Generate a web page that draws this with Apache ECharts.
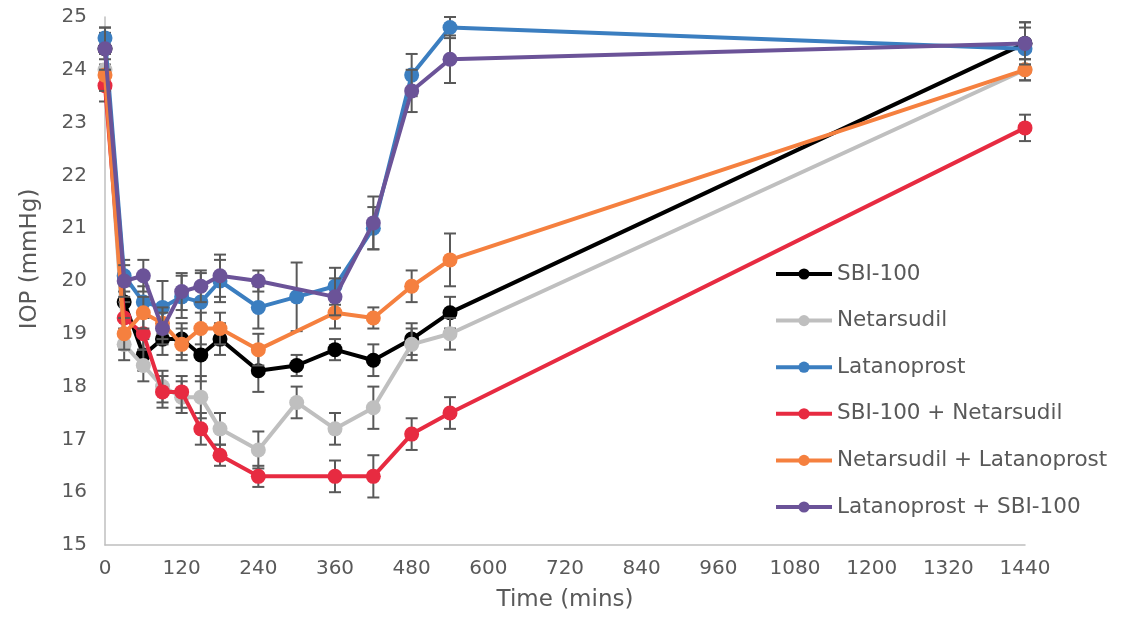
<!DOCTYPE html>
<html>
<head>
<meta charset="utf-8">
<script src="https://cdn.jsdelivr.net/npm/echarts@6/dist/echarts.min.js"></script>
<style>
html,body{margin:0;padding:0;background:#fff;}
#chart{width:1135px;height:617px;}
</style>
</head>
<body>
<div id="chart"></div>
<script>
const times = [0,30,60,90,120,150,180,240,300,360,420,480,540,1440];
const seriesNames = ["SBI-100","Netarsudil","Latanoprost","SBI-100 + Netarsudil","Netarsudil + Latanoprost","Latanoprost + SBI-100"];
const seriesColors = ["#000000","#BFBFBF","#3B7EC0","#E72B41","#F5803F","#6B5398"];

const sbi100       = [24.4,19.6,18.6,18.9,18.9,18.6,18.9,18.3,18.4,18.7,18.5,18.9,19.4,24.5];
const sbi100Err    = [0.3,0.3,0.3,0.3,0.3,0.5,0.3,0.4,0.2,0.2,0.3,0.3,0.3,0.4];
const netarsudil   = [24.0,18.8,18.4,18.0,17.8,17.8,17.2,16.8,17.7,17.2,17.6,18.8,19.0,24.0];
const netarsudilErr= [0.3,0.3,0.3,0.3,0.3,0.4,0.3,0.35,0.3,0.3,0.4,0.3,0.3,0.2];
const latanoprost  = [24.6,20.1,19.6,19.5,19.7,19.6,20.0,19.5,19.7,19.9,21.0,23.9,24.8,24.4];
const latanoprostErr=[0.2,0.3,0.3,0.5,0.4,0.55,0.4,0.4,0.65,0.35,0.4,0.4,0.2,0.4];
const sbiNet       = [23.7,19.3,19.0,17.9,17.9,17.2,16.7,16.3,null,16.3,16.3,17.1,17.5,22.9];
const sbiNetErr    = [0.3,0.3,0.3,0.3,0.3,0.3,0.2,0.2,null,0.3,0.4,0.3,0.3,0.25];
const netLat       = [23.9,19.0,19.4,19.2,18.8,19.1,19.1,18.7,null,19.4,19.3,19.9,20.4,24.0];
const netLatErr    = [0.3,0.3,0.3,0.3,0.3,0.3,0.3,0.3,null,0.3,0.2,0.3,0.5,0.2];
const latSbi       = [24.4,20.0,20.1,19.1,19.8,19.9,20.1,20.0,null,19.7,21.1,23.6,24.2,24.5];
const latSbiErr    = [0.4,0.3,0.3,0.3,0.35,0.3,0.4,0.2,null,0.35,0.5,0.4,0.45,0.4];

const yTicks = {min:15, max:25, interval:1};
const xTicks = {min:0, max:1440, interval:120};

const allValues = [sbi100, netarsudil, latanoprost, sbiNet, netLat, latSbi];
const allErrors = [sbi100Err, netarsudilErr, latanoprostErr, sbiNetErr, netLatErr, latSbiErr];

const FONT = "DejaVu Sans";
const TXT = "#595959";

function errRender(params, api) {
  const x = api.value(0), lo = api.value(1), hi = api.value(2);
  const pHi = api.coord([x, hi]);
  const pLo = api.coord([x, lo]);
  const hw = 6;
  const style = {stroke:"#595959", lineWidth:2, fill:null};
  return {type:'group', children:[
    {type:'line', shape:{x1:pHi[0], y1:pHi[1], x2:pLo[0], y2:pLo[1]}, style:style},
    {type:'line', shape:{x1:pHi[0]-hw, y1:pHi[1], x2:pHi[0]+hw, y2:pHi[1]}, style:style},
    {type:'line', shape:{x1:pLo[0]-hw, y1:pLo[1], x2:pLo[0]+hw, y2:pLo[1]}, style:style}
  ]};
}

const series = [];
allValues.forEach((vals, si) => {
  const pts = [], errs = [];
  times.forEach((t, i) => {
    if (vals[i] !== null) {
      pts.push([t, vals[i]]);
      errs.push([t, vals[i] - allErrors[si][i], vals[i] + allErrors[si][i]]);
    }
  });
  series.push({
    type:'custom', renderItem: errRender, data: errs, z: 2 + si*2, silent:true,
    encode:{x:0, y:[1,2]}
  });
  series.push({
    name: seriesNames[si], type:'line', data: pts, z: 3 + si*2,
    symbol:'circle', symbolSize:15,
    lineStyle:{width:4, color:seriesColors[si]},
    itemStyle:{color:seriesColors[si]},
    animation:false
  });
});

const chart = echarts.init(document.getElementById('chart'));
chart.setOption({
  animation:false,
  backgroundColor:'#fff',
  grid:{left:105, right:110, top:17, bottom:71, containLabel:false},
  xAxis:{
    type:'value', min:xTicks.min, max:xTicks.max, interval:xTicks.interval,
    name:'Time (mins)', nameLocation:'middle', nameGap:44,
    nameTextStyle:{fontFamily:FONT, fontSize:23, color:TXT},
    axisLine:{show:true, lineStyle:{color:'#BFBFBF', width:1.5}},
    axisTick:{show:false},
    splitLine:{show:false},
    axisLabel:{fontFamily:FONT, fontSize:20, color:TXT, margin:14, formatter:(v)=>String(v)}
  },
  yAxis:{
    type:'value', min:yTicks.min, max:yTicks.max, interval:yTicks.interval,
    name:'IOP (mmHg)', nameLocation:'middle', nameGap:63,
    nameTextStyle:{fontFamily:FONT, fontSize:23, color:TXT, padding:[0,0,0,44]},
    axisLine:{show:true, lineStyle:{color:'#BFBFBF', width:1.5}},
    axisTick:{show:false},
    splitLine:{show:false},
    axisLabel:{fontFamily:FONT, fontSize:20, color:TXT, margin:18}
  },
  legend:{
    data: seriesNames,
    orient:'vertical', left:774, top:262, itemGap:22.6, padding:0,
    itemWidth:56, itemHeight:14,
    lineStyle:{width:4},
    textStyle:{fontFamily:FONT, fontSize:21.5, lineHeight:24, color:TXT}
  },
  series: series
});
</script>
</body>
</html>
